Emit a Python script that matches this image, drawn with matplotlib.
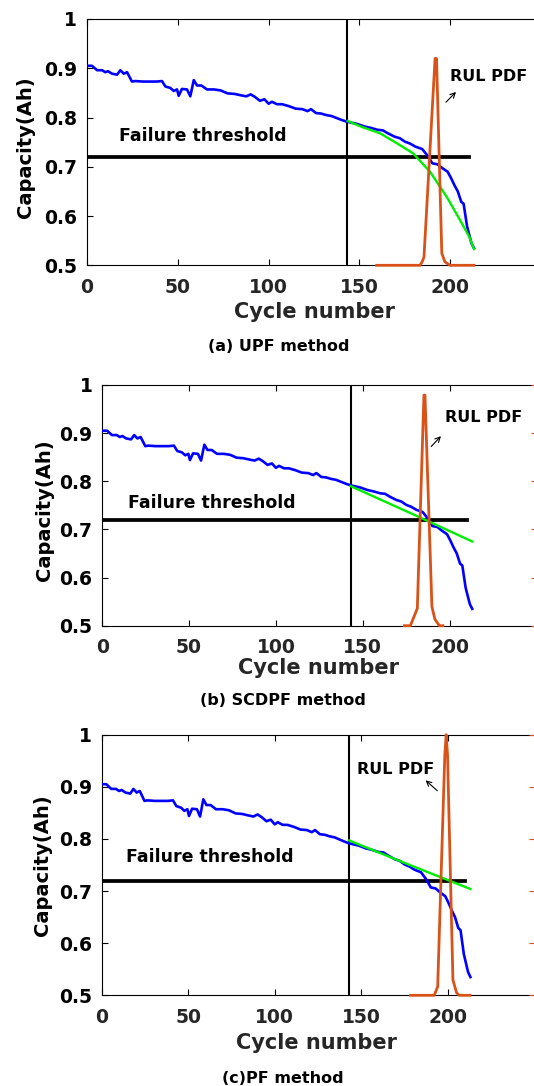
import matplotlib
matplotlib.use('Agg')
import matplotlib.pyplot as plt

# measured battery capacity (blue)
cycles = [0.6, 2.8, 5.6, 8.4, 10.1, 11.6, 13.8, 16.6, 18.4, 20.3, 22.1, 24.8, 26.6,
          30.8, 34.0, 38.3, 41.3, 43.2, 45.9, 47.8, 49.6, 50.5, 52.3, 55.1, 56.9,
          58.8, 60.6, 63.0, 66.1, 69.9, 73.6, 77.4, 81.1, 84.9, 87.7, 90.1, 92.4,
          95.2, 97.7, 100.0, 101.8, 104.6, 107.4, 111.2, 114.9, 118.6, 121.4, 123.3,
          126.1, 128.9, 131.7, 134.6, 137.4, 140.2, 142.6, 145.0, 148.7, 152.5, 156.2,
          160.0, 162.8, 165.6, 169.4, 172.2, 175.0, 177.9, 180.7, 184.5, 187.8, 190.1,
          192.9, 195.7, 198.5, 200.4, 202.2, 204.1, 206.0, 207.3, 209.2, 211.6, 213.0]
capacity = [0.905, 0.905, 0.896, 0.896, 0.892, 0.894, 0.889, 0.887, 0.896, 0.889, 0.892,
            0.873, 0.874, 0.873, 0.873, 0.873, 0.874, 0.863, 0.860, 0.854, 0.857, 0.844,
            0.858, 0.857, 0.843, 0.876, 0.865, 0.865, 0.857, 0.857, 0.855, 0.849, 0.848,
            0.845, 0.843, 0.847, 0.842, 0.834, 0.837, 0.828, 0.832, 0.827, 0.827, 0.823,
            0.818, 0.817, 0.813, 0.817, 0.809, 0.808, 0.805, 0.803, 0.799, 0.795, 0.792,
            0.790, 0.787, 0.782, 0.779, 0.775, 0.774, 0.768, 0.761, 0.758, 0.751, 0.747,
            0.741, 0.736, 0.721, 0.707, 0.705, 0.697, 0.690, 0.677, 0.663, 0.650, 0.629,
            0.625, 0.579, 0.545, 0.535]

threshold = 0.72
start_cycle = 143

# predictions (green)
upf_x = [143.5, 151.2, 161.3, 170.5, 179.6, 188.8, 198.0, 205.3, 210.4, 213.0]
upf_y = [0.793, 0.781, 0.768, 0.748, 0.727, 0.690, 0.639, 0.592, 0.558, 0.533]
scdpf_x = [143, 178, 213]
scdpf_y = [0.790, 0.733, 0.675]
pf_x = [143, 178, 213]
pf_y = [0.797, 0.750, 0.704]

# RUL pdf (orange), normalised
upf_pdf_x = [159.5, 183.3, 184.5, 185.5, 191.6, 192.4, 195.3, 197.0, 199.8, 213.0]
upf_pdf_y = [0.0, 0.0, 0.014, 0.034, 0.84, 0.84, 0.049, 0.014, 0.0, 0.0]
scdpf_pdf_x = [174.0, 177.4, 181.4, 185.2, 185.8, 189.8, 191.5, 194.1, 196.1]
scdpf_pdf_y = [0.0, 0.0, 0.072, 0.958, 0.958, 0.079, 0.027, 0.0, 0.0]
pf_pdf_x = [178.4, 192.1, 194.1, 198.2, 199.0, 199.8, 202.9, 205.0, 206.5, 212.8]
pf_pdf_y = [0.0, 0.0, 0.033, 0.92, 1.0, 0.92, 0.059, 0.01, 0.0, 0.0]

plt.rcParams['font.family'] = ['DejaVu Sans']
plt.rcParams['font.weight'] = 'bold'

fig = plt.figure(figsize=(5.34, 10.86), dpi=100)

W, H = 534.0, 1086.0
# pixel boxes: left, right, top, bottom
boxes = [(86.9, 541.2, 19.0, 265.3),
         (102.2, 536.5, 385.0, 625.7),
         (101.5, 534.5, 734.7, 995.3)]
preds = [(upf_x, upf_y), (scdpf_x, scdpf_y), (pf_x, pf_y)]
pdfs = [(upf_pdf_x, upf_pdf_y), (scdpf_pdf_x, scdpf_pdf_y), (pf_pdf_x, pf_pdf_y)]
ft_pos = [(17.8, 0.763), (15.1, 0.7555), (14.0, 0.765)]
rul_pos = [(200.0, 0.883), (197.1, 0.933), (147.5, 0.934)]
arrows = [((196.5, 0.827), (204.2, 0.856)),
          ((188.3, 0.868), (196.1, 0.898)),
          ((195.1, 0.889), (185.9, 0.916))]
ylab_coords = [(-0.135, 0.48), (-0.133, 0.48), (-0.136, 0.50)]
xlab_coords = [(0.5, -0.19), (0.497, -0.177), (0.497, -0.182)]
captions = [('(a) UPF method', 278.5, 346.7),
            ('(b) SCDPF method', 282.7, 700.7),
            ('(c)PF method', 283.0, 1078.3)]

for i in range(3):
    l, r, t, b = boxes[i]
    ax = fig.add_axes([l / W, 1 - b / H, (r - l) / W, (b - t) / H])
    ax.plot(cycles, capacity, color='#0000FF', linewidth=1.9, zorder=3)
    ax.plot(preds[i][0], preds[i][1], color='#00EE00', linewidth=1.7, zorder=4)
    ax.plot([0, 210], [threshold, threshold], color='black', linewidth=2.7, zorder=2)
    ax.axvline(start_cycle, color='black', linewidth=1.5, zorder=2)
    ax.set_xlim(0, 250)
    ax.set_ylim(0.5, 1.0)
    ax.set_xticks([0, 50, 100, 150, 200])
    ax.set_yticks([0.5, 0.6, 0.7, 0.8, 0.9, 1.0])
    ax.set_yticklabels(['0.5', '0.6', '0.7', '0.8', '0.9', '1'])
    ax.tick_params(axis='x', direction='in', top=True, length=4, width=0.8,
                   labelsize=13.5, pad=9, labelcolor='#262626')
    ax.tick_params(axis='y', direction='in', length=4, width=0.8,
                   labelsize=13.5, pad=7, labelcolor='black')
    for s in ax.spines.values():
        s.set_linewidth(0.8)
    ax.set_xlabel('Cycle number', fontsize=15, fontweight='bold', color='#262626', va='center')
    ax.xaxis.set_label_coords(*xlab_coords[i])
    ax.set_ylabel('Capacity(Ah)', fontsize=14, fontweight='bold', va='center')
    ax.yaxis.set_label_coords(*ylab_coords[i])
    ax.text(ft_pos[i][0], ft_pos[i][1], 'Failure threshold', fontsize=12.5,
            fontweight='bold', va='center', ha='left')
    ax.text(rul_pos[i][0], rul_pos[i][1], 'RUL PDF', fontsize=11.5,
            fontweight='bold', va='center', ha='left')
    ax.annotate('', xy=arrows[i][1], xytext=arrows[i][0],
                arrowprops=dict(arrowstyle='->', color='black', lw=0.8,
                                mutation_scale=9))

    ax2 = ax.twinx()
    ax2.plot(pdfs[i][0], pdfs[i][1], color='#D95319', linewidth=2.0, zorder=5,
             clip_on=False)
    ax2.set_ylim(0, 1)
    ax2.set_yticks([0, 0.2, 0.4, 0.6, 0.8, 1.0])
    ax2.tick_params(axis='y', direction='in', length=4, width=0.8, color='#D95319',
                    labelright=False)
    for s in ax2.spines.values():
        s.set_visible(False)

    fig.text(captions[i][1] / W, 1 - captions[i][2] / H, captions[i][0],
             fontsize=11.5, fontweight='bold', ha='center', va='center')

fig.savefig('out.png', dpi=100)
